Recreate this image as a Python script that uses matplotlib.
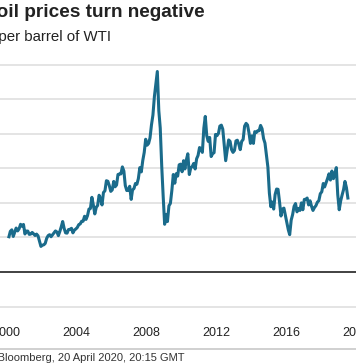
import matplotlib
matplotlib.use("Agg")
import matplotlib.pyplot as plt
import matplotlib.dates as mdates
import pandas as pd
import datetime as dt

plt.rcParams['font.family'] = ['Liberation Sans', 'DejaVu Sans']

# WTI price, US$ per barrel, one reading per month (mid-month), Jan 2000 - Jun 2019
start = "2000-01-15"
prices = [
    25.5, 29.4, 30.5, 25.7, 28.8, 31.8, 29.7, 31.3, 34.5, 33.1, 34.4, 27.5,   # 2000
    29.6, 29.6, 27.2, 27.4, 28.6, 27.6, 26.4, 27.4, 26.2, 22.2, 18.5, 19.4,   # 2001
    19.7, 20.7, 24.4, 26.3, 27.0, 25.5, 26.9, 28.4, 29.7, 28.9, 26.3, 29.4,   # 2002
    32.9, 36.5, 31.5, 28.3, 28.1, 30.7, 30.8, 31.6, 28.3, 30.3, 31.1, 32.2,   # 2003
    34.3, 34.7, 36.7, 36.7, 40.3, 38.0, 40.7, 45.5, 45.9, 54.0, 48.5, 42.0,   # 2004
    46.8, 48.1, 55.5, 53.0, 48.5, 57.5, 58.7, 66.0, 65.6, 62.4, 58.3, 59.4,   # 2005
    65.5, 61.6, 62.9, 70.5, 70.9, 70.9, 76.0, 73.0, 62.5, 58.9, 59.1, 62.0,   # 2006
    52.5, 59.3, 60.4, 64.0, 63.5, 67.5, 75.5, 72.4, 80.5, 86.5, 96.0, 91.7,   # 2007
    93.0, 97.0, 106.5, 113.5, 127.0, 136.0, 145.0, 116.7, 104.1, 76.6, 55.0, 34.5,  # 2008
    41.7, 36.5, 47.9, 49.6, 59.0, 70.5, 64.2, 71.1, 69.4, 77.5, 78.0, 72.5,   # 2009
    80.5, 74.5, 81.2, 85.5, 70.5, 75.3, 76.3, 78.5, 74.5, 81.9, 84.3, 90.0,   # 2010
    89.2, 86.5, 104.0, 112.5, 98.5, 94.5, 97.3, 83.5, 85.5, 86.3, 99.5, 98.6, # 2011
    100.3, 105.5, 106.2, 103.3, 91.5, 80.5, 88.0, 95.5, 94.5, 88.5, 86.5, 87.9,  # 2012
    94.8, 95.3, 92.5, 88.5, 94.5, 95.8, 105.5, 107.5, 106.3, 100.5, 93.0, 98.5,  # 2013
    93.0, 101.5, 100.8, 102.1, 102.2, 106.0, 103.6, 96.5, 93.2, 84.4, 75.8, 57.0,  # 2014
    47.2, 50.6, 45.5, 56.0, 60.0, 59.8, 50.9, 40.5, 45.5, 46.2, 41.0, 36.0,   # 2015
    30.5, 27.0, 37.5, 41.5, 47.5, 49.5, 43.5, 46.0, 44.5, 50.0, 45.0, 52.5,   # 2016
    52.5, 53.5, 48.5, 51.5, 47.5, 44.5, 46.6, 48.0, 50.5, 51.6, 56.6, 58.0,   # 2017
    64.0, 61.5, 64.5, 67.5, 71.0, 66.5, 73.0, 67.5, 70.5, 75.5, 56.0, 45.0,   # 2018
    51.5, 55.5, 59.5, 65.5, 61.0, 53.5,                                      # 2019
]
dates = pd.date_range(start, periods=len(prices), freq="MS") + pd.Timedelta(days=14)

year_ticks = [2000, 2004, 2008, 2012, 2016, 2020]
grid_values = [-25, 0, 25, 50, 75, 100, 125, 150]

title = "US oil prices turn negative"
subtitle = "Price per barrel of WTI"
source = "Source: Bloomberg, 20 April 2020, 20:15 GMT"

W, H = 356, 364
fig = plt.figure(figsize=(W / 100, H / 100), dpi=100)

# layout in pixels: zero line at y=272, 25 units = 34.57 px, 18 px per year, 2000 at x=7
px_per_unit = 34.57 / 25
y_lo, y_hi = -30, 155
bot_px = 272 + (-y_lo) * px_per_unit
top_px = 272 - y_hi * px_per_unit
ax = fig.add_axes([0, (H - bot_px) / H, 1, (bot_px - top_px) / H])

d0 = mdates.date2num(dt.date(2000, 1, 1))
days_per_px = 365.25 / 18
ax.set_xlim(d0 - 7 * days_per_px, d0 + (W - 7) * days_per_px)
ax.set_ylim(y_lo, y_hi)

for v in grid_values:
    if v == 0:
        ax.axhline(v, color="#333333", lw=1.3, zorder=3)
    else:
        ax.axhline(v, color="#dddddd", lw=1.1, zorder=1)

ax.plot(dates, prices, color="#1a6b8b", lw=2.2, zorder=4, solid_joinstyle="round")

for s in ax.spines.values():
    s.set_visible(False)
ax.set_yticks([])
ax.set_xticks([mdates.date2num(dt.date(y, 1, 1)) for y in year_ticks])
ax.set_xticklabels([str(y) for y in year_ticks], fontsize=9, color="#222222")
ax.tick_params(axis="x", length=0, pad=(326 - bot_px) * 0.72 + 0.5)

# separator above source
fig.add_artist(plt.Line2D([0, 1], [(H - 349) / H] * 2, color="#d0d0d0", lw=1.4))

fig.text(205 / W, (H - 17) / H, title, ha="right", va="baseline",
         fontsize=13.7, fontweight="bold", color="#222222")
fig.text(111 / W, (H - 41.5) / H, subtitle, ha="right", va="baseline",
         fontsize=10.8, color="#222222")
fig.text(185 / W, (H - 361) / H, source, ha="right", va="baseline",
         fontsize=8, color="#333333")

fig.savefig("out.png", dpi=100)
